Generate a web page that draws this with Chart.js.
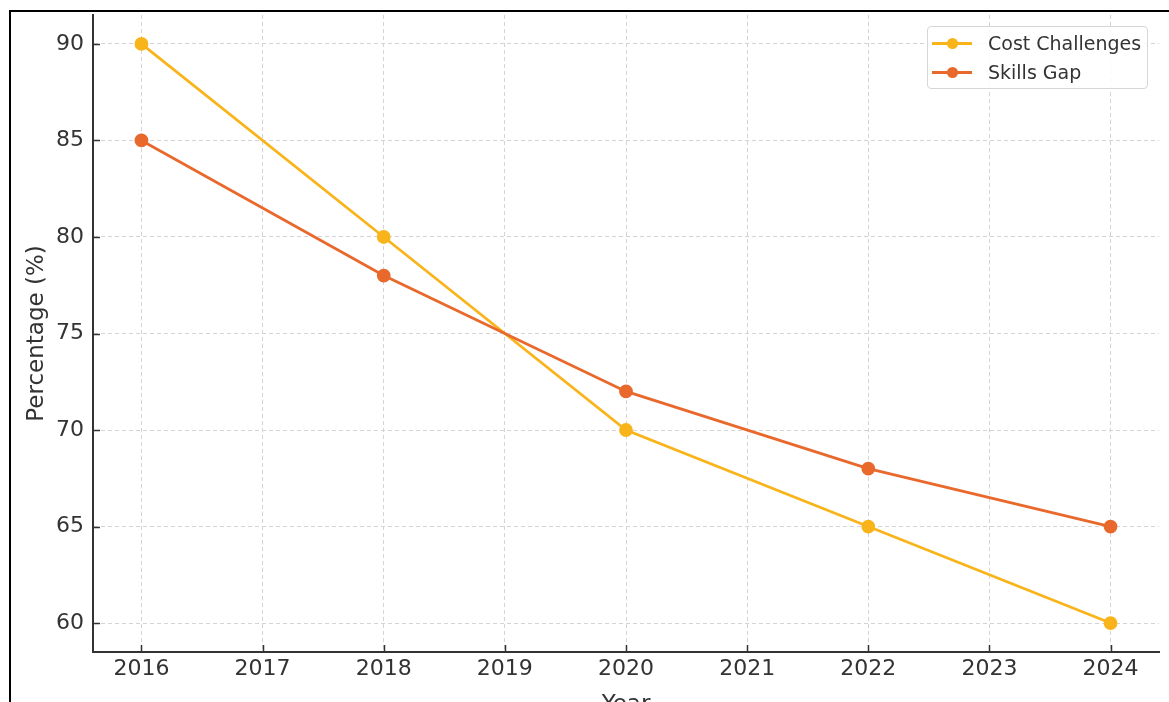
<!DOCTYPE html>
<html>
<head>
<meta charset="utf-8">
<script src="https://cdn.jsdelivr.net/npm/chart.js@4.4.1/dist/chart.umd.min.js"></script>
<style>
  html, body { margin: 0; padding: 0; background: #fff; overflow: hidden; }
  #wrap { position: relative; width: 1169px; height: 702px; overflow: hidden; background: #fff; }
  #c { position: absolute; left: 0; top: 0; }
  #frame { position: absolute; left: 9px; top: 10px; right: 0; bottom: 0;
           border-left: 2px solid #000; border-top: 2px solid #000; pointer-events: none; }
  #legend { position: absolute; left: 927px; top: 26px; width: 219px; height: 61px;
            border: 1px solid #d6d6d6; border-radius: 4px; background: rgba(255,255,255,0.85);
            font-family: "DejaVu Sans", sans-serif; font-size: 19px; color: #333; }
  .row { position: absolute; left: 0; height: 24px; width: 100%; }
  .sw { position: absolute; left: 4px; top: 10px; width: 40px; height: 3px; }
  .dot { position: absolute; left: 15px; top: -4px; width: 11px; height: 11px; border-radius: 50%; }
  .lbl { position: absolute; left: 60px; top: -1px; white-space: nowrap; line-height: 24px; }
</style>
</head>
<body>
<div id="wrap">
  <canvas id="c" width="1169" height="740" style="width:1169px;height:740px"></canvas>
  <div id="frame"></div>
  <div id="legend"></div>
</div>
<script>
const years = [2016, 2018, 2020, 2022, 2024];
const costChallenges = [90, 80, 70, 65, 60];
const skillsGap = [85, 78, 72, 68, 65];
const xTickYears = [2016, 2017, 2018, 2019, 2020, 2021, 2022, 2023, 2024];
const yTickValues = [60, 65, 70, 75, 80, 85, 90];
const seriesNames = ['Cost Challenges', 'Skills Gap'];
const seriesColors = ['#f9b41b', '#e9692c'];
const xTitle = 'Year';
const yTitle = 'Percentage (%)';

const toPoints = (vals) => years.map((y, i) => ({ x: y, y: vals[i] }));

const inwardTicks = {
  id: 'inwardTicks',
  afterDatasetsDraw(chart) {
    const ctx = chart.ctx, xs = chart.scales.x, ys = chart.scales.y;
    const a = chart.chartArea;
    ctx.save();
    ctx.strokeStyle = '#333';
    ctx.lineWidth = 1.5;
    ctx.beginPath();
    xTickYears.forEach(v => {
      const px = Math.round(xs.getPixelForValue(v)) + 0.5;
      ctx.moveTo(px, a.bottom); ctx.lineTo(px, a.bottom - 7);
    });
    yTickValues.forEach(v => {
      const py = Math.round(ys.getPixelForValue(v)) + 0.5;
      ctx.moveTo(a.left, py); ctx.lineTo(a.left + 7, py);
    });
    ctx.stroke();
    ctx.restore();
  }
};

const fontFam = '"DejaVu Sans", sans-serif';

new Chart(document.getElementById('c'), {
  type: 'line',
  data: {
    datasets: [
      { label: seriesNames[0], data: toPoints(costChallenges), borderColor: seriesColors[0],
        backgroundColor: seriesColors[0], pointBackgroundColor: seriesColors[0], pointBorderColor: seriesColors[0],
        borderWidth: 2.8, pointRadius: 5.5, tension: 0, order: 2 },
      { label: seriesNames[1], data: toPoints(skillsGap), borderColor: seriesColors[1],
        backgroundColor: seriesColors[1], pointBackgroundColor: seriesColors[1], pointBorderColor: seriesColors[1],
        borderWidth: 2.8, pointRadius: 5.5, tension: 0, order: 1 }
    ]
  },
  options: {
    responsive: false,
    animation: false,
    events: [],
    layout: { padding: { top: 15, right: 10, left: 0, bottom: 0 } },
    plugins: { legend: { display: false }, tooltip: { enabled: false } },
    scales: {
      x: {
        type: 'linear',
        min: 2015.6, max: 2024.4,
        afterBuildTicks: (s) => { s.ticks = xTickYears.map(v => ({ value: v })); },
        afterFit: (s) => { s.height = 88; s.paddingLeft = 0; s.paddingRight = 0; },
        ticks: { color: '#333', padding: 4, font: { family: fontFam, size: 22 },
                 callback: (v) => String(v), autoSkip: false, maxRotation: 0 },
        grid: { color: '#d4d4d4', lineWidth: 1, drawTicks: false },
        border: { display: true, color: '#333', width: 2, dash: [4, 3] },
        title: { display: true, text: xTitle, color: '#333', font: { family: fontFam, size: 23 },
                 padding: { top: 0, bottom: 21 } }
      },
      y: {
        min: 58.5, max: 91.5,
        afterBuildTicks: (s) => { s.ticks = yTickValues.map(v => ({ value: v })); },
        afterFit: (s) => { s.width = 93; s.paddingTop = 0; s.paddingBottom = 0; },
        ticks: { color: '#333', padding: 9, font: { family: fontFam, size: 22 },
                 callback: (v) => String(v) },
        grid: { color: '#d4d4d4', lineWidth: 1, drawTicks: false },
        border: { display: true, color: '#333', width: 2, dash: [4, 3] },
        title: { display: true, text: yTitle, color: '#333', font: { family: fontFam, size: 23 },
                 padding: { top: 23, bottom: 0 } }
      }
    }
  },
  plugins: [inwardTicks]
});

// legend (HTML)
const lg = document.getElementById('legend');
seriesNames.forEach((name, i) => {
  const row = document.createElement('div');
  row.className = 'row';
  row.style.top = (5 + i * 29) + 'px';
  const sw = document.createElement('div');
  sw.className = 'sw'; sw.style.background = seriesColors[i];
  const dot = document.createElement('div');
  dot.className = 'dot'; dot.style.background = seriesColors[i];
  sw.appendChild(dot);
  const lbl = document.createElement('div');
  lbl.className = 'lbl'; lbl.textContent = name;
  row.appendChild(sw); row.appendChild(lbl);
  lg.appendChild(row);
});
</script>
</body>
</html>
